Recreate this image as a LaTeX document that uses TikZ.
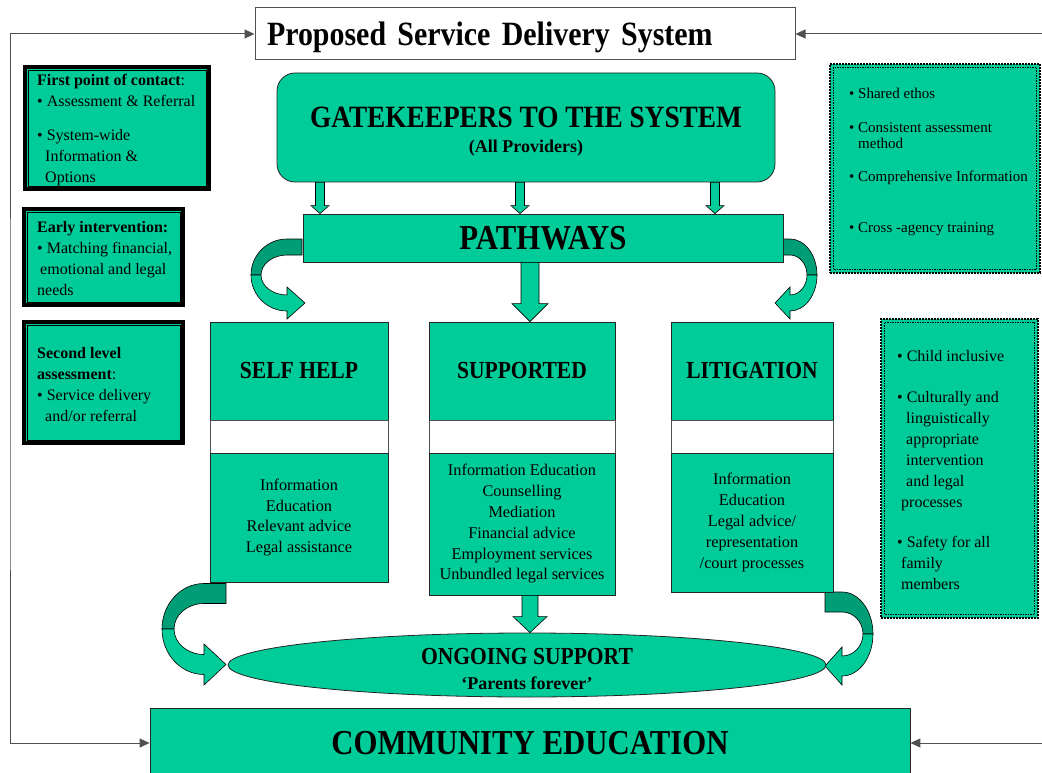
\documentclass[tikz,border=0pt]{standalone}
\usepackage{fontspec}
\setmainfont{Liberation Serif}
\newfontfamily\headfont{Liberation Serif}[FakeStretch=0.88]
\usetikzlibrary{positioning,calc,shapes.geometric,arrows.meta}

\definecolor{boxgreen}{RGB}{0,204,153}
\definecolor{backgreen}{RGB}{0,158,118}
\definecolor{linegray}{RGB}{80,80,80}

% straight block arrow: top, tip, shaft half width, head half width, head length
\newcommand{\blockdown}[5]{%
  \filldraw[blockarrow] ($(#1)+(-#3,0)$) -- ($(#2)+(-#3,-#5)$) -- ($(#2)+(-#4,-#5)$) -- (#2)
    -- ($(#2)+(#4,-#5)$) -- ($(#2)+(#3,-#5)$) -- ($(#1)+(#3,0)$) -- cycle;}

\begin{document}
\begin{tikzpicture}[x=1pt,y=-1pt,
    greenbox/.style={draw=black!85,fill=boxgreen,line width=0.8pt,inner sep=0pt},
    leftbox/.style={draw=black,line width=4pt,fill=boxgreen,inner sep=0pt},
    dotbox/.style={draw=black,line width=2pt,densely dotted,fill=boxgreen,inner sep=0pt},
    smalltext/.style={font=\fontsize{16}{21}\selectfont,align=left,inner sep=0pt,anchor=north west},
    listtext/.style={font=\fontsize{16.3}{20.8}\selectfont,align=center},
    bighead/.style={font=\headfont\bfseries\fontsize{35}{40}\selectfont},
    midhead/.style={font=\headfont\bfseries\fontsize{24.5}{28}\selectfont},
    fbline/.style={draw=linegray,line width=1pt},
    blockarrow/.style={fill=boxgreen,draw=black,line width=0.6pt},
    backpart/.style={fill=backgreen,draw=black,line width=0.6pt},
    frontpart/.style={fill=boxgreen,draw=black,line width=0.6pt}]
    \useasboundingbox (0,0) rectangle (1042,773);

    % title and feedback lines
    \node[draw=linegray,fill=white,line width=1pt,minimum height=52,text width=516,inner xsep=12pt,align=left,
        text depth=0pt,font=\headfont\bfseries\fontsize{34}{40}\selectfont] (title) at (525,34) {Proposed Service Delivery System};
    \node[greenbox,minimum width=760,minimum height=70,bighead] (comm) at (530,743) {COMMUNITY EDUCATION};
    \coordinate (lcorner) at (10,400);
    \coordinate (rtop) at (1042,34);
    \coordinate (rbot) at (1042,743);
    \draw[fbline,{Triangle[length=10pt,width=9pt]}-{Triangle[length=10pt,width=9pt]}] (title.west) -| (lcorner) |- (comm.west);
    \draw[fbline,-{Triangle[length=10pt,width=9pt]}] (rtop) -- (title.east);
    \draw[fbline,-{Triangle[length=10pt,width=9pt]}] (rbot) -- (comm.east);

    % curved arrows from pathways
    \filldraw[backpart] (302,239) -- (287,239) .. controls (267.1,239) and (251,255.1) .. (251,275)
        -- (261,275) .. controls (261,264) and (272.6,255) .. (287,255) -- (302,255) -- cycle;
    \filldraw[frontpart] (251,275) .. controls (251,294.9) and (267.1,311) .. (287,311) -- (287,319) -- (305,303)
        -- (287,287) -- (287,295) .. controls (272.6,295) and (261,286) .. (261,275) -- cycle;
    \filldraw[backpart] (783,239) -- (790,239) .. controls (804.9,239) and (817,255.1) .. (817,275)
        -- (807,275) .. controls (807,264) and (799.4,255) .. (790,255) -- (783,255) -- cycle;
    \filldraw[frontpart] (817,275) .. controls (817,294.9) and (804.9,311) .. (790,311) -- (790,319) -- (775,303)
        -- (790,287) -- (790,295) .. controls (799.4,295) and (807,286) .. (807,275) -- cycle;

    % curved arrows to ongoing support
    \filldraw[backpart] (226,583.5) -- (204,583.5) .. controls (180.8,583.5) and (162,603.9) .. (162,629)
        -- (174,629) .. controls (174,614.9) and (187.4,603.5) .. (204,603.5) -- (226,603.5) -- cycle;
    \filldraw[frontpart] (162,629) .. controls (162,654.1) and (180.8,674.5) .. (204,674.5) -- (204,685) -- (226,664.5)
        -- (204,644) -- (204,654.5) .. controls (187.4,654.5) and (174,643.1) .. (174,629) -- cycle;
    \filldraw[backpart] (825,592) -- (842,592) .. controls (859.1,592) and (873,610.8) .. (873,634)
        -- (863,634) .. controls (863,621.9) and (853.6,612) .. (842,612) -- (825,612) -- cycle;
    \filldraw[frontpart] (873,634) .. controls (873,657.2) and (859.1,676) .. (842,676) -- (842,685) -- (825,666)
        -- (842,647) -- (842,656) .. controls (853.6,656) and (863,646.1) .. (863,634) -- cycle;

    % gatekeepers and pathways
    \node[greenbox,minimum width=498,minimum height=109,rounded corners=18pt] (gate) at (526,127.5) {};
    \node[font=\bfseries\fontsize{18}{20}\selectfont,align=center] (gatet) at (526,132)
        {{\headfont\fontsize{31}{34}\selectfont GATEKEEPERS TO THE SYSTEM}\\[5pt](All Providers)};
    \node[greenbox,minimum width=480,minimum height=48,bighead] (pathw) at (543,238) {PATHWAYS};
    \blockdown{320,0 |- gate.south}{320,0 |- pathw.north}{4.5}{9}{8}
    \blockdown{520,0 |- gate.south}{520,0 |- pathw.north}{4.5}{9}{8}
    \blockdown{715,0 |- gate.south}{715,0 |- pathw.north}{4.5}{9}{8}

    % the three pathways
    \node[greenbox,minimum width=178,minimum height=98,midhead] (sh) at (299,371) {SELF HELP};
    \node[greenbox,minimum width=186,minimum height=98,midhead] (su) at (522,371) {SUPPORTED};
    \node[greenbox,minimum width=162,minimum height=98,midhead] (li) at (752,371) {LITIGATION};
    \node[draw=linegray,fill=white,minimum width=178,minimum height=33] (shm) at (299,436.5) {};
    \node[draw=linegray,fill=white,minimum width=186,minimum height=33] (sum) at (522,436.5) {};
    \node[draw=linegray,fill=white,minimum width=162,minimum height=33] (lim) at (752,436.5) {};
    \node[greenbox,minimum width=178,minimum height=129,listtext] (shl) at (299,517.5)
        {Information\\Education\\Relevant advice\\Legal assistance};
    \node[greenbox,minimum width=186,minimum height=142,listtext] (sul) at (522,524)
        {Information Education\\Counselling\\Mediation\\Financial advice\\Employment services\\Unbundled legal services};
    \node[greenbox,minimum width=162,minimum height=139,listtext] (lil) at (752,522.5)
        {Information\\Education\\Legal advice/\\representation\\/court processes};
    \blockdown{530,0 |- pathw.south}{530,0 |- su.north}{9}{18}{18}

    % ongoing support
    \node[ellipse,greenbox,minimum width=598,minimum height=64] (og) at (527,665) {};
    \node[font=\bfseries\fontsize{18}{20}\selectfont,align=center] (ogt) at (527,669)
        {{\headfont\fontsize{24.5}{26}\selectfont ONGOING SUPPORT}\\[5pt]‘Parents forever’};
    \blockdown{530,0 |- sul.south}{530,0 |- og.north}{8}{17}{16}

    % left boxes
    \node[leftbox,minimum width=184,minimum height=122] (lb1) at (117,128) {};
    \node[leftbox,minimum width=159,minimum height=96] (lb2) at (103.5,257) {};
    \node[leftbox,minimum width=159,minimum height=121] (lb3) at (103.5,382.5) {};
    \foreach \b in {lb1,lb2,lb3}
        \draw[line width=0.8pt] ([shift={(5,5)}]\b.north west) rectangle ([shift={(-5,-5)}]\b.south east);
    \node[smalltext] (lb1t) at (37,74) {{\bfseries First point of contact}:\\• Assessment \& Referral\\[13pt]
        • System-wide\\\hspace*{8pt}Information \&\\\hspace*{8pt}Options};
    \node[smalltext] (lb2t) at (37,221) {{\bfseries Early intervention:}\\• Matching financial,\\
        \hspace*{3pt}emotional and legal\\needs};
    \node[smalltext] (lb3t) at (37,347) {{\bfseries Second level}\\{\bfseries assessment}:\\
        • Service delivery\\\hspace*{8pt}and/or referral};

    % right boxes
    \node[dotbox,minimum width=210,minimum height=209] (rb1) at (935,168.5) {};
    \node[dotbox,minimum width=157,minimum height=299] (rb2) at (959.5,468.5) {};
    \foreach \b in {rb1,rb2}
        \draw[line width=1.5pt,densely dotted] ([shift={(4.5,4.5)}]\b.north west) rectangle ([shift={(-4.5,-4.5)}]\b.south east);
    \node[smalltext,font=\fontsize{15}{16}\selectfont] (rb1t) at (849,88) {• Shared ethos\\[18pt]
        • Consistent assessment\\\hspace*{9pt}method\\[17pt]• Comprehensive Information\\[35pt]• Cross -agency training};
    \node[smalltext] (rb2t) at (897,350) {• Child inclusive\\[20pt]• Culturally and\\\hspace*{9pt}linguistically\\
        \hspace*{9pt}appropriate\\\hspace*{9pt}intervention\\\hspace*{9pt}and legal\\\hspace*{4pt}processes\\[19pt]
        • Safety for all\\\hspace*{4pt}family\\\hspace*{4pt}members};
\end{tikzpicture}
\end{document}
